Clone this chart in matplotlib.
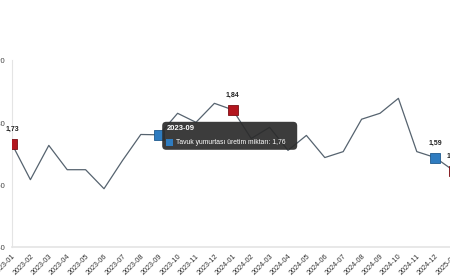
import matplotlib
matplotlib.use("Agg")
import matplotlib.pyplot as plt
import matplotlib.transforms as mtransforms
from matplotlib.patches import FancyBboxPatch, Rectangle

plt.rcParams['font.family'] = ['Liberation Sans', 'DejaVu Sans']

months = ["2023-01", "2023-02", "2023-03", "2023-04", "2023-05", "2023-06",
          "2023-07", "2023-08", "2023-09", "2023-10", "2023-11", "2023-12",
          "2024-01", "2024-02", "2024-03", "2024-04", "2024-05", "2024-06",
          "2024-07", "2024-08", "2024-09", "2024-10", "2024-11", "2024-12",
          "2025-01"]
values = [1.73, 1.616, 1.726, 1.648, 1.648, 1.587,
          1.677, 1.761, 1.76, 1.829, 1.80, 1.861,
          1.84, 1.748, 1.784, 1.71, 1.758, 1.687,
          1.706, 1.81, 1.829, 1.877, 1.706, 1.687,
          1.645]
red_idx = [0, 12, 24]
blue_idx = [8, 23]
point_labels = {0: "1,73", 12: "1,84", 23: "1,59", 24: "1,65"}
y_ticks = [1.40, 1.60, 1.80, 2.00]
tip_idx = 8
tip_series = "Tavuk yumurtası üretim miktarı"
tip_value = "1,76"

W, H = 450, 280
fig = plt.figure(figsize=(W / 100, H / 100), dpi=100)
# axes runs past the right edge, as in the cropped reference
ax = fig.add_axes([12 / W, 33 / H, 460 / W, 187 / H])

x = list(range(len(months)))
ax.plot(x, values, color='#56636f', lw=0.9, zorder=2)
for i in red_idx:
    ax.plot(i, values[i], marker='s', ms=7.2, color='#b3161e', mec='#7a0e14', mew=0.6, zorder=3)
for i in blue_idx:
    ax.plot(i, values[i], marker='s', ms=7.2, color='#2f7cc0', mec='#1f5a8e', mew=0.6, zorder=3)
for i, lab in point_labels.items():
    ax.annotate(lab, (i, values[i]), xytext=(0, 8), textcoords='offset points',
                ha='center', va='bottom', fontsize=5, fontweight='bold', color='#222222')

ax.set_xlim(0, 25)
ax.set_ylim(1.40, 2.00)
ax.set_xticks(x)
ax.set_xticklabels(months, rotation=45, ha='right', va='top', rotation_mode='anchor',
                   fontsize=5.2, color='#333333')
ax.set_yticks(y_ticks)
ax.set_yticklabels([f"{v:.2f}".replace('.', ',') for v in y_ticks], fontsize=5.5, color='#444444')
ax.tick_params(axis='both', length=0, pad=5)
ax.tick_params(axis='x', pad=4)
for s in ['top', 'right']:
    ax.spines[s].set_visible(False)
ax.spines['left'].set_color('#e4e4e4')
ax.spines['bottom'].set_color('#e4e4e4')
ax.spines['left'].set_linewidth(0.8)
ax.spines['bottom'].set_linewidth(1.2)

# tooltip at the hovered point
px, py = ax.transData.transform((tip_idx, values[tip_idx]))
ident = mtransforms.IdentityTransform()
box = FancyBboxPatch((px + 3, py - 15), 135, 28, boxstyle="round,pad=0,rounding_size=4",
                     transform=ident, fc='#2b2b2b', ec='none', alpha=0.92, zorder=10)
fig.add_artist(box)
fig.text(px + 8, py + 6, months[tip_idx], transform=ident, fontsize=5.5, fontweight='bold',
         color='white', va='center', ha='left', zorder=11)
fig.add_artist(Rectangle((px + 7, py - 11), 7, 7, transform=ident, fc='#2f7cc0',
                         ec='none', zorder=11))
fig.text(px + 17, py - 7.5, f"{tip_series}: {tip_value}", transform=ident, fontsize=4.9,
         color='white', va='center', ha='left', zorder=11)

fig.savefig("out.png", dpi=100)
